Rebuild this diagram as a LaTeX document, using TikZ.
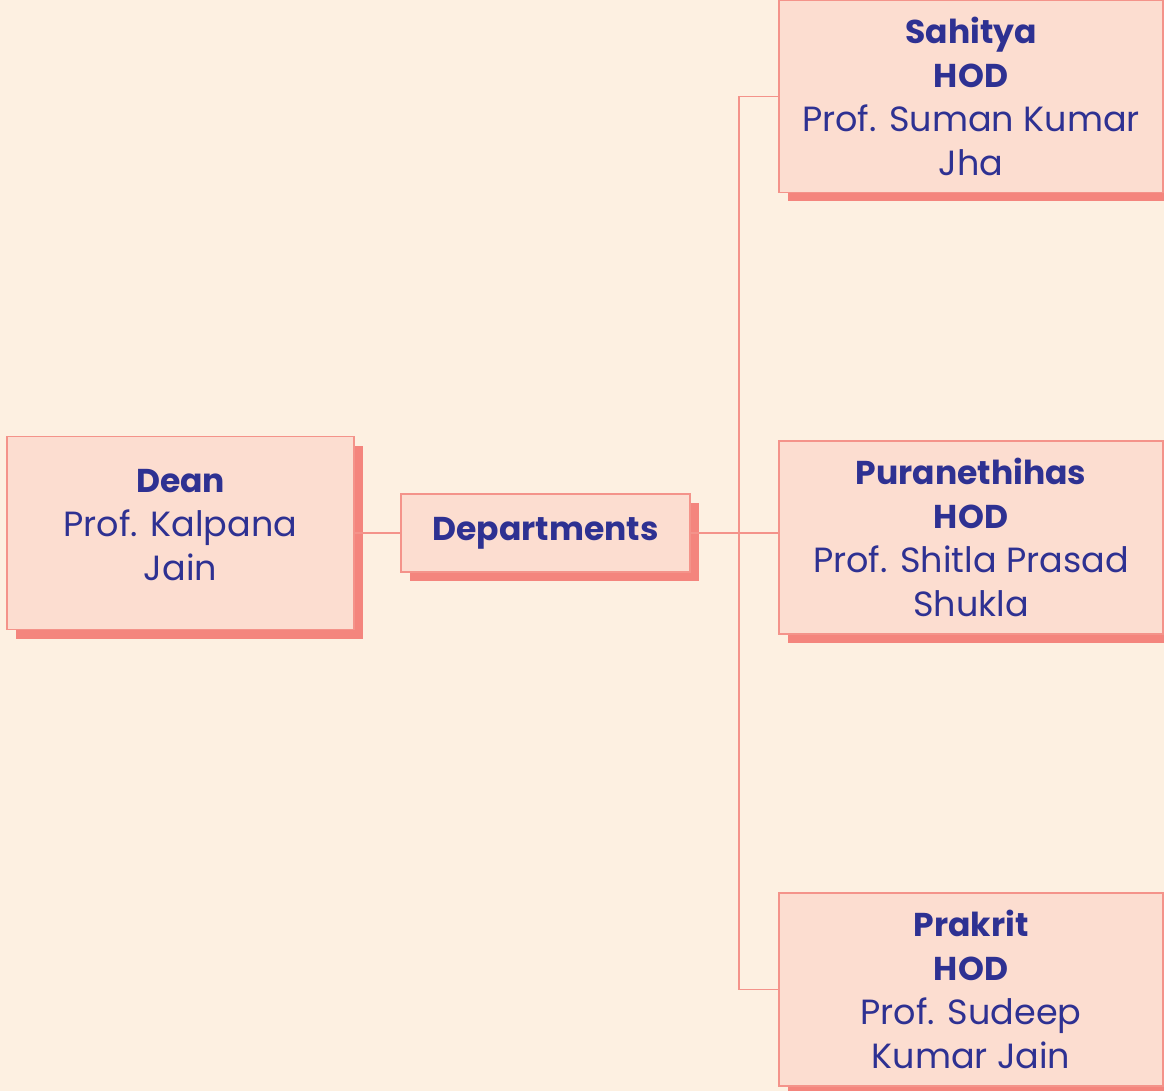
\documentclass[tikz,border=0pt]{standalone}
\usepackage{fontspec}
\setmainfont{Poppins}
\usetikzlibrary{shadows}
\definecolor{bgc}{HTML}{FDF0E1}
\definecolor{boxc}{HTML}{FCDDD0}
\definecolor{shc}{HTML}{F4857D}
\definecolor{edgec}{HTML}{F4938A}
\definecolor{txtc}{HTML}{2E3192}
\newcommand{\hd}[1]{{\fontsize{33}{44}\selectfont\bfseries #1}}
\tikzset{
  orgbox/.style={draw=edgec, line width=1.5pt, fill=boxc, text=txtc, align=center,
    inner sep=0pt, font=\fontsize{35}{44}\selectfont,
    general shadow={fill=shc, shadow xshift=9pt, shadow yshift=-9pt}},
  link/.style={draw=edgec, line width=1.3pt}
}
\begin{document}
\begin{tikzpicture}[x=1pt,y=-1pt]
\fill[bgc] (0,0) rectangle (1164,1091);
\useasboundingbox (0,0) rectangle (1164,1091);
\node[orgbox, minimum width=347pt, minimum height=193pt, text depth=16pt] (dean) at (180.5,533)
  {\hd{Dean}\\Prof. Kalpana\\Jain};
\node[orgbox, minimum width=289pt, minimum height=78pt] (dept) at (545.5,533)
  {\hd{Departments}};
\node[orgbox, minimum width=384pt, minimum height=192pt] (sah) at (971,96.5)
  {\hd{Sahitya}\\\hd{HOD}\\Prof. Suman Kumar\\Jha};
\node[orgbox, minimum width=384pt, minimum height=193pt] (pur) at (971,537.5)
  {\hd{Puranethihas}\\\hd{HOD}\\Prof. Shitla Prasad\\Shukla};
\node[orgbox, minimum width=384pt, minimum height=193pt] (pra) at (971,989.5)
  {\hd{Prakrit}\\\hd{HOD}\\Prof. Sudeep\\Kumar Jain};
\coordinate (j) at (739,533);
\draw[link] (dean.east) -- (dept.west);
\draw[link] (dept.east) -- (j);
\draw[link] (j) -- (pur.west |- j);
\draw[link] (sah.west) -| (j) |- (pra.west);
\end{tikzpicture}
\end{document}
